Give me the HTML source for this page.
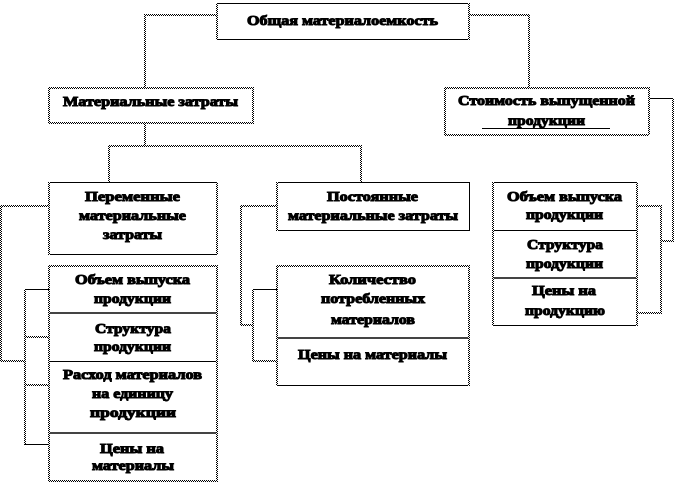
<!DOCTYPE html>
<html lang="ru">
<head>
<meta charset="utf-8">
<title>Общая материалоемкость</title>
<style>
html,body{margin:0;padding:0;background:#fff;}
svg{display:block;}
text{font-family:"Liberation Serif","DejaVu Serif",serif;font-weight:bold;font-size:14px;fill:#000;stroke:#000;stroke-width:1px;}
.d{fill:url(#c);}
.s{fill:#000;}
.g{fill:#444;}
</style>
</head>
<body>
<svg width="674" height="483" viewBox="0 0 674 483" xmlns="http://www.w3.org/2000/svg">
<defs>
<pattern id="c" width="2" height="2" patternUnits="userSpaceOnUse">
<rect width="2" height="2" fill="#fff"/>
<rect x="0" y="0" width="1" height="1" fill="#000"/>
<rect x="1" y="1" width="1" height="1" fill="#000"/>
</pattern>
</defs>
<rect width="674" height="483" fill="#fff"/>

<!-- top box -->
<rect class="s" x="217" y="3" width="252" height="1"/>
<rect class="s" x="217" y="39" width="252" height="1"/>
<rect class="d" x="216" y="3" width="2" height="37"/>
<rect class="d" x="468" y="3" width="2" height="37"/>
<rect class="d" x="145" y="14" width="72" height="2"/>
<rect class="d" x="144" y="14" width="2" height="73"/>
<rect class="d" x="469" y="14" width="60" height="2"/>
<rect class="d" x="528" y="14" width="2" height="73"/>

<!-- материальные затраты -->
<rect class="d" x="49" y="87" width="204" height="2"/>
<rect class="d" x="49" y="122" width="204" height="2"/>
<rect class="d" x="48" y="87" width="2" height="37"/>
<rect class="d" x="252" y="87" width="2" height="37"/>
<rect class="d" x="144" y="124" width="2" height="22"/>
<rect class="d" x="108" y="145" width="254" height="2"/>
<rect class="d" x="108" y="146" width="2" height="36"/>
<rect class="d" x="360" y="146" width="2" height="36"/>

<!-- стоимость -->
<rect class="d" x="445" y="87" width="204" height="2"/>
<rect class="d" x="445" y="134" width="204" height="2"/>
<rect class="d" x="444" y="87" width="2" height="48"/>
<rect class="d" x="648" y="87" width="2" height="48"/>
<rect class="s" x="482" y="128" width="128" height="1"/>
<rect class="s" x="650" y="98" width="23" height="1"/>
<rect class="d" x="672" y="98" width="2" height="144"/>
<rect class="d" x="661" y="240" width="13" height="2"/>
<rect class="d" x="660" y="205" width="2" height="109"/>
<rect class="d" x="637" y="205" width="24" height="2"/>
<rect class="d" x="637" y="312" width="24" height="2"/>

<!-- переменные -->
<rect class="s" x="49" y="182" width="168" height="1"/>
<rect class="s" x="49" y="254" width="168" height="1"/>
<rect class="d" x="48" y="182" width="2" height="73"/>
<rect class="d" x="216" y="182" width="2" height="73"/>
<rect class="d" x="0" y="205" width="49" height="2"/>
<rect class="d" x="0" y="205" width="2" height="156"/>
<rect class="d" x="0" y="360" width="25" height="2"/>

<!-- постоянные -->
<rect class="s" x="277" y="182" width="192" height="1"/>
<rect class="s" x="277" y="230" width="192" height="1"/>
<rect class="d" x="276" y="182" width="2" height="49"/>
<rect class="s" x="469" y="182" width="1" height="49"/>
<rect class="d" x="241" y="205" width="36" height="2"/>
<rect class="d" x="240" y="205" width="2" height="120"/>
<rect class="d" x="240" y="324" width="13" height="2"/>

<!-- правый столбец -->
<rect class="s" x="493" y="182" width="144" height="1"/>
<rect class="s" x="493" y="230" width="144" height="1"/>
<rect class="g" x="493" y="277" width="144" height="2"/>
<rect class="s" x="493" y="325" width="144" height="1"/>
<rect class="d" x="492" y="182" width="2" height="144"/>
<rect class="d" x="636" y="182" width="2" height="144"/>

<!-- левый столбец -->
<rect class="d" x="49" y="265" width="168" height="2"/>
<rect class="g" x="49" y="312" width="168" height="2"/>
<rect class="s" x="49" y="361" width="168" height="1"/>
<rect class="g" x="49" y="432" width="168" height="2"/>
<rect class="d" x="49" y="480" width="168" height="2"/>
<rect class="d" x="48" y="265" width="2" height="217"/>
<rect class="d" x="216" y="265" width="2" height="217"/>
<rect class="d" x="24" y="289" width="2" height="156"/>
<rect class="s" x="25" y="289" width="24" height="1"/>
<rect class="d" x="26" y="336" width="23" height="2"/>
<rect class="d" x="26" y="384" width="23" height="2"/>
<rect class="s" x="25" y="444" width="24" height="1"/>

<!-- средний столбец -->
<rect class="d" x="277" y="265" width="192" height="2"/>
<rect class="g" x="277" y="337" width="192" height="2"/>
<rect class="s" x="277" y="385" width="192" height="1"/>
<rect class="d" x="276" y="265" width="2" height="121"/>
<rect class="d" x="468" y="265" width="2" height="121"/>
<rect class="d" x="252" y="289" width="2" height="73"/>
<rect class="s" x="253" y="289" width="24" height="1"/>
<rect class="d" x="254" y="360" width="23" height="2"/>

<!-- text -->
<text x="247" y="25" textLength="191" lengthAdjust="spacingAndGlyphs">Общая материалоемкость</text>
<text x="63" y="106" textLength="175" lengthAdjust="spacingAndGlyphs">Материальные затраты</text>
<text x="458" y="105" textLength="177" lengthAdjust="spacingAndGlyphs">Стоимость выпущенной</text>
<text x="508" y="125" textLength="77" lengthAdjust="spacingAndGlyphs">продукции</text>

<text x="85" y="201" textLength="95" lengthAdjust="spacingAndGlyphs">Переменные</text>
<text x="79" y="220" textLength="107" lengthAdjust="spacingAndGlyphs">материальные</text>
<text x="103" y="239" textLength="59" lengthAdjust="spacingAndGlyphs">затраты</text>

<text x="327" y="201" textLength="91" lengthAdjust="spacingAndGlyphs">Постоянные</text>
<text x="288" y="220" textLength="170" lengthAdjust="spacingAndGlyphs">материальные затраты</text>

<text x="75" y="284" textLength="115" lengthAdjust="spacingAndGlyphs">Объем выпуска</text>
<text x="94" y="303" textLength="77" lengthAdjust="spacingAndGlyphs">продукции</text>
<text x="95" y="333" textLength="76" lengthAdjust="spacingAndGlyphs">Структура</text>
<text x="94" y="351" textLength="77" lengthAdjust="spacingAndGlyphs">продукции</text>
<text x="63" y="379" textLength="139" lengthAdjust="spacingAndGlyphs">Расход материалов</text>
<text x="92" y="398" textLength="81" lengthAdjust="spacingAndGlyphs">на единицу</text>
<text x="90" y="417" textLength="86" lengthAdjust="spacingAndGlyphs">продукции</text>
<text x="100" y="453" textLength="64" lengthAdjust="spacingAndGlyphs">Цены на</text>
<text x="92" y="470" textLength="82" lengthAdjust="spacingAndGlyphs">материалы</text>

<text x="329" y="284" textLength="87" lengthAdjust="spacingAndGlyphs">Количество</text>
<text x="321" y="303" textLength="104" lengthAdjust="spacingAndGlyphs">потребленных</text>
<text x="331" y="324" textLength="84" lengthAdjust="spacingAndGlyphs">материалов</text>
<text x="298" y="359" textLength="149" lengthAdjust="spacingAndGlyphs">Цены на материалы</text>

<text x="507" y="201" textLength="115" lengthAdjust="spacingAndGlyphs">Объем выпуска</text>
<text x="526" y="219" textLength="77" lengthAdjust="spacingAndGlyphs">продукции</text>
<text x="527" y="249" textLength="76" lengthAdjust="spacingAndGlyphs">Структура</text>
<text x="526" y="268" textLength="77" lengthAdjust="spacingAndGlyphs">продукции</text>
<text x="532" y="295" textLength="64" lengthAdjust="spacingAndGlyphs">Цены на</text>
<text x="525" y="315" textLength="80" lengthAdjust="spacingAndGlyphs">продукцию</text>
</svg>
</body>
</html>
